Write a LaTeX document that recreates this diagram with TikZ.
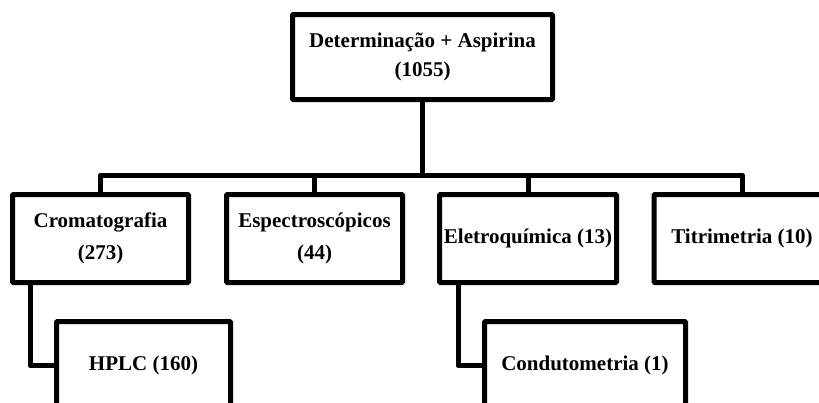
\documentclass[tikz,border=0pt]{standalone}
\usepackage{fontspec}
\setmainfont{Liberation Serif}
\begin{document}
\begin{tikzpicture}[x=1pt,y=-1pt,
  box/.style={draw=black,line width=5pt,rounded corners=1pt,fill=white,inner sep=0pt,
    minimum width=176pt,minimum height=88pt,align=center,
    font=\bfseries\fontsize{21}{32}\selectfont},
  link/.style={draw=black,line width=5pt,line join=round}]
\useasboundingbox (0,0) rectangle (819,402);
\clip (0,0) rectangle (819,402);
\node[box,minimum width=260pt,minimum height=85pt,font=\bfseries\fontsize{21}{29}\selectfont] (top) at (422.5,57) {Determinação + Aspirina\\(1055)};
\node[box] (crom) at (100.5,238.5) {Cromatografia\\(273)};
\node[box] (esp) at (314.5,238.5) {Espectroscópicos\\(44)};
\node[box,minimum width=177pt] (ele) at (528,238.5) {Eletroquímica (13)};
\node[box] (tit) at (742,238.5) {Titrimetria (10)};
\node[box,minimum width=174pt] (hplc) at (143.5,365.5) {HPLC (160)};
\node[box,minimum width=201pt] (cond) at (585,365.5) {Condutometria (1)};
\coordinate (bus) at (422.5,175);
\draw[link] (top.south) -- (bus);
\draw[link] (crom.north) |- (bus) -| (tit.north);
\draw[link] (esp.north) -- (esp.north |- bus);
\draw[link] (ele.north) -- (ele.north |- bus);
\draw[link] ([xshift=20pt]crom.south west) |- (hplc.west);
\draw[link] ([xshift=21pt]ele.south west) |- (cond.west);
\end{tikzpicture}
\end{document}
